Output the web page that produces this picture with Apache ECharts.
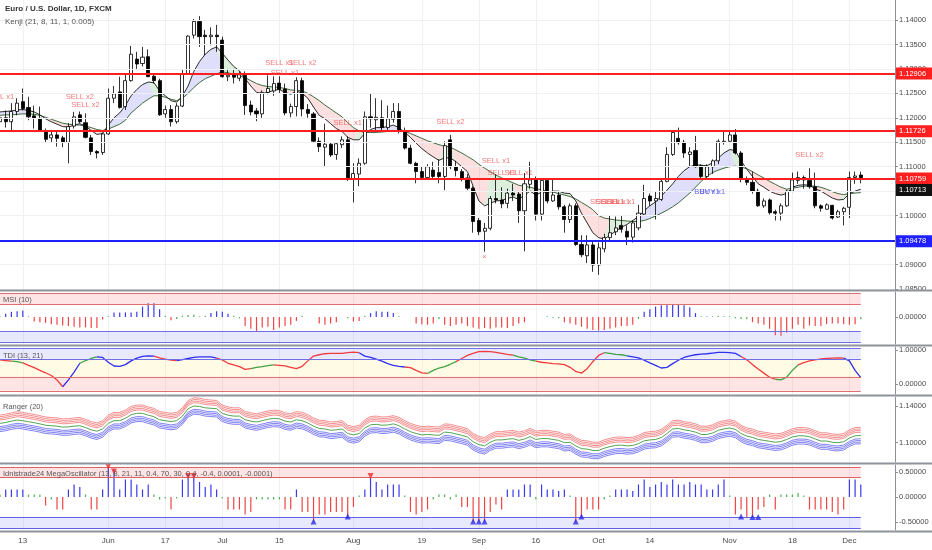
<!DOCTYPE html>
<html><head><meta charset="utf-8">
<script src="https://cdn.jsdelivr.net/npm/echarts@6/dist/echarts.min.js"></script>
<style>html,body{margin:0;padding:0;background:#fff}#c{width:932px;height:550px}</style>
</head><body><div id="c"></div>
<script>
const dates = [
'2019-05-07','2019-05-08','2019-05-09','2019-05-10','2019-05-13','2019-05-14','2019-05-15','2019-05-16','2019-05-17','2019-05-20',
'2019-05-21','2019-05-22','2019-05-23','2019-05-24','2019-05-27','2019-05-28','2019-05-29','2019-05-30','2019-05-31',
'2019-06-03','2019-06-04','2019-06-05','2019-06-06','2019-06-07','2019-06-10','2019-06-11','2019-06-12','2019-06-13','2019-06-14',
'2019-06-17','2019-06-18','2019-06-19','2019-06-20','2019-06-21','2019-06-24','2019-06-25','2019-06-26','2019-06-27','2019-06-28',
'2019-07-01','2019-07-02','2019-07-03','2019-07-04','2019-07-05','2019-07-08','2019-07-09','2019-07-10','2019-07-11','2019-07-12',
'2019-07-15','2019-07-16','2019-07-17','2019-07-18','2019-07-19','2019-07-22','2019-07-23','2019-07-24','2019-07-25','2019-07-26',
'2019-07-29','2019-07-30','2019-07-31',
'2019-08-01','2019-08-02','2019-08-05','2019-08-06','2019-08-07','2019-08-08','2019-08-09','2019-08-12','2019-08-13','2019-08-14',
'2019-08-15','2019-08-16','2019-08-19','2019-08-20','2019-08-21','2019-08-22','2019-08-23','2019-08-26','2019-08-27','2019-08-28',
'2019-08-29','2019-08-30',
'2019-09-02','2019-09-03','2019-09-04','2019-09-05','2019-09-06','2019-09-09','2019-09-10','2019-09-11','2019-09-12','2019-09-13',
'2019-09-16','2019-09-17','2019-09-18','2019-09-19','2019-09-20','2019-09-23','2019-09-24','2019-09-25','2019-09-26','2019-09-27',
'2019-09-30',
'2019-10-01','2019-10-02','2019-10-03','2019-10-04','2019-10-07','2019-10-08','2019-10-09','2019-10-10','2019-10-11','2019-10-14',
'2019-10-15','2019-10-16','2019-10-17','2019-10-18','2019-10-21','2019-10-22','2019-10-23','2019-10-24','2019-10-25','2019-10-28',
'2019-10-29','2019-10-30','2019-10-31',
'2019-11-01','2019-11-04','2019-11-05','2019-11-06','2019-11-07','2019-11-08','2019-11-11','2019-11-12','2019-11-13','2019-11-14',
'2019-11-15','2019-11-18','2019-11-19','2019-11-20','2019-11-21','2019-11-22','2019-11-25','2019-11-26','2019-11-27','2019-11-28',
'2019-11-29',
'2019-12-02','2019-12-03','2019-12-04','2019-12-05','2019-12-06','2019-12-09','2019-12-10','2019-12-11','2019-12-12'
];
const xTickDates = ['2019-05-13','2019-06-03','2019-06-17','2019-07-01','2019-07-15','2019-08-01','2019-08-19','2019-09-02','2019-09-16','2019-10-01','2019-10-14','2019-11-01','2019-11-18','2019-12-02'];
const xTickLabels = ['13','Jun','17','Jul','15','Aug','19','Sep','16','Oct','14','Nov','18','Dec'];

const opens = [
1.1192,1.1200,1.1192,1.1213,1.1233,1.1221,1.1204,1.1199,1.1174,1.1159,
1.1165,1.1159,1.1150,1.1183,1.1206,1.1190,1.1159,1.1131,1.1129,1.1167,
1.1240,1.1253,1.1223,1.1276,1.1320,1.1311,1.1325,1.1285,1.1276,1.1208,
1.1217,1.1192,1.1224,1.1290,1.1369,1.1397,1.1369,1.1366,1.1369,1.1359,
1.1284,1.1288,1.1281,1.1287,1.1226,1.1214,1.1208,1.1252,1.1255,1.1271,
1.1259,1.1210,1.1223,1.1276,1.1217,1.1208,1.1152,1.1140,1.1146,1.1125,
1.1145,1.1155,1.1075,1.1085,1.1107,1.1202,1.1196,1.1200,1.1180,1.1197,
1.1213,1.1172,1.1138,1.1107,1.1090,1.1078,1.1093,1.1088,1.1080,1.1155,
1.1100,1.1090,1.1077,1.1056,1.0990,1.0968,1.0974,1.1035,1.1032,1.1025,
1.1046,1.1044,1.1010,1.1064,1.1073,1.1003,1.1072,1.1030,1.1042,1.1018,
1.0992,1.1020,1.0941,1.0918,1.0940,1.0899,1.0932,1.0955,1.0967,1.0980,
1.0968,1.0956,1.0975,1.1003,1.1040,1.1030,1.1033,1.1070,1.1125,1.1158,
1.1150,1.1125,1.1133,1.1102,1.1080,1.1100,1.1112,1.1150,1.1152,1.1165,
1.1128,1.1075,1.1068,1.1050,1.1020,1.1032,1.1008,1.1005,1.1020,1.1050,
1.1072,1.1078,1.1072,1.1059,1.1020,1.1013,1.1021,1.0997,1.1008,1.1017,
1.1078,1.1083];
const closes = [
1.1200,1.1192,1.1213,1.1230,1.1219,1.1202,1.1199,1.1175,1.1156,1.1165,
1.1158,1.1150,1.1182,1.1202,1.1192,1.1160,1.1131,1.1128,1.1167,1.1240,
1.1249,1.1221,1.1276,1.1330,1.1310,1.1324,1.1284,1.1276,1.1206,1.1217,
1.1192,1.1224,1.1290,1.1367,1.1397,1.1366,1.1366,1.1369,1.1366,1.1284,
1.1287,1.1283,1.1288,1.1225,1.1212,1.1208,1.1252,1.1260,1.1270,1.1258,
1.1210,1.1223,1.1276,1.1218,1.1209,1.1152,1.1141,1.1146,1.1124,1.1147,
1.1155,1.1076,1.1086,1.1107,1.1202,1.1198,1.1201,1.1180,1.1198,1.1213,
1.1172,1.1138,1.1107,1.1090,1.1078,1.1100,1.1080,1.1080,1.1143,1.1100,
1.1092,1.1077,1.1056,1.0988,1.0967,1.0974,1.1035,1.1032,1.1024,1.1046,
1.1042,1.1010,1.1065,1.1073,1.1003,1.1072,1.1030,1.1042,1.1018,1.0992,
1.1020,1.0941,1.0920,1.0940,1.0899,1.0934,1.0955,1.0965,1.0975,1.0972,
1.0956,1.0985,1.1005,1.1035,1.1030,1.1035,1.1070,1.1125,1.1170,1.1149,
1.1128,1.1130,1.1100,1.1080,1.1100,1.1112,1.1152,1.1152,1.1165,1.1128,
1.1075,1.1068,1.1050,1.1020,1.1030,1.1006,1.1005,1.1020,1.1050,1.1073,
1.1078,1.1073,1.1059,1.1020,1.1015,1.1022,1.0995,1.1008,1.1015,1.1078,
1.1081,1.1076];
const lows = [
1.1185,1.1180,1.1175,1.1205,1.1215,1.1195,1.1178,1.1172,1.1150,1.1150,
1.1141,1.1140,1.1107,1.1178,1.1189,1.1158,1.1124,1.1117,1.1124,1.1165,
1.1230,1.1219,1.1216,1.1274,1.1300,1.1305,1.1284,1.1270,1.1204,1.1200,
1.1182,1.1188,1.1222,1.1288,1.1362,1.1345,1.1328,1.1348,1.1335,1.1282,
1.1275,1.1270,1.1275,1.1206,1.1205,1.1193,1.1200,1.1248,1.1245,1.1250,
1.1205,1.1201,1.1203,1.1203,1.1200,1.1149,1.1130,1.1101,1.1120,1.1114,
1.1138,1.1071,1.1027,1.1060,1.1104,1.1180,1.1175,1.1175,1.1172,1.1190,
1.1168,1.1135,1.1105,1.1066,1.1075,1.1075,1.1075,1.1066,1.1052,1.1095,
1.1080,1.1070,1.1052,1.0965,1.0960,1.0926,1.0970,1.1025,1.1015,1.1015,
1.1030,1.0985,1.0927,1.1055,1.0990,1.0990,1.1025,1.1028,1.1012,1.0965,
1.0985,1.0938,1.0915,1.0903,1.0885,1.0879,1.0925,1.0950,1.0960,1.0965,
1.0940,1.0945,1.0970,1.1000,1.1020,1.0992,1.1030,1.1068,1.1122,1.1145,
1.1118,1.1100,1.1098,1.1075,1.1075,1.1085,1.1105,1.1145,1.1150,1.1125,
1.1068,1.1062,1.1045,1.1018,1.1016,1.1002,1.0990,1.0990,1.1018,1.1048,
1.1065,1.1055,1.1055,1.1015,1.1008,1.1012,1.0992,1.0995,1.0980,1.0995,
1.1065,1.1066];
const highs = [
1.1215,1.1215,1.1230,1.1240,1.1260,1.1243,1.1225,1.1223,1.1178,1.1172,
1.1175,1.1163,1.1189,1.1212,1.1213,1.1209,1.1165,1.1134,1.1170,1.1260,
1.1265,1.1284,1.1288,1.1347,1.1335,1.1345,1.1340,1.1290,1.1280,1.1225,
1.1226,1.1230,1.1298,1.1369,1.1402,1.1408,1.1380,1.1385,1.1390,1.1366,
1.1300,1.1300,1.1295,1.1295,1.1235,1.1220,1.1256,1.1287,1.1285,1.1285,
1.1270,1.1229,1.1283,1.1282,1.1228,1.1212,1.1160,1.1188,1.1150,1.1150,
1.1162,1.1162,1.1107,1.1117,1.1213,1.1250,1.1240,1.1236,1.1225,1.1230,
1.1230,1.1180,1.1145,1.1110,1.1100,1.1105,1.1110,1.1115,1.1152,1.1165,
1.1112,1.1095,1.1085,1.1060,1.0995,1.0985,1.1040,1.1085,1.1058,1.1055,
1.1065,1.1050,1.1087,1.1110,1.1080,1.1075,1.1075,1.1075,1.1050,1.1022,
1.1025,1.1025,1.0960,1.0960,1.0950,1.0945,1.0963,1.1000,1.0998,1.1000,
1.0980,1.0990,1.1022,1.1063,1.1045,1.1050,1.1075,1.1140,1.1172,1.1180,
1.1155,1.1140,1.1163,1.1105,1.1105,1.1115,1.1156,1.1175,1.1175,1.1177,
1.1132,1.1080,1.1090,1.1055,1.1035,1.1035,1.1012,1.1025,1.1053,1.1088,
1.1090,1.1082,1.1097,1.1088,1.1023,1.1025,1.1022,1.1012,1.1018,1.1090,
1.1090,1.1090];

const kenjiFast = [
1.1212,1.1213,1.1214,1.1216,1.1217,1.1215,1.1212,1.1206,1.1198,1.1192,
1.1187,1.1182,1.1181,1.1185,1.1188,1.1183,1.1174,1.1166,1.1168,1.1185,
1.1200,1.1210,1.1225,1.1245,1.1258,1.1268,1.1273,1.1272,1.1255,1.1245,
1.1235,1.1232,1.1245,1.1265,1.1295,1.1315,1.1330,1.1340,1.1345,1.1332,
1.1318,1.1305,1.1296,1.1280,1.1265,1.1252,1.1250,1.1252,1.1256,1.1258,
1.1252,1.1248,1.1255,1.1250,1.1240,1.1222,1.1205,1.1198,1.1188,1.1178,
1.1172,1.1160,1.1155,1.1155,1.1168,1.1176,1.1180,1.1180,1.1182,1.1185,
1.1180,1.1170,1.1160,1.1148,1.1137,1.1128,1.1120,1.1113,1.1118,1.1118,
1.1110,1.1100,1.1090,1.1060,1.1030,1.1020,1.1025,1.1030,1.1031,1.1035,
1.1038,1.1033,1.1042,1.1050,1.1042,1.1048,1.1048,1.1050,1.1050,1.1046,
1.1045,1.1030,1.1005,1.0985,1.0965,1.0955,1.0952,1.0960,1.0968,1.0976,
1.0982,1.0990,1.0998,1.1010,1.1020,1.1028,1.1040,1.1052,1.1065,1.1080,
1.1092,1.1100,1.1104,1.1103,1.1102,1.1108,1.1118,1.1128,1.1135,1.1133,
1.1112,1.1095,1.1080,1.1065,1.1058,1.1050,1.1045,1.1042,1.1045,1.1058,
1.1062,1.1063,1.1062,1.1055,1.1050,1.1043,1.1036,1.1032,1.1033,1.1045,
1.1050,1.1054];
const kenjiSlow = [
1.1205,1.1206,1.1206,1.1207,1.1208,1.1208,1.1207,1.1205,1.1201,1.1197,
1.1193,1.1189,1.1187,1.1186,1.1185,1.1183,1.1180,1.1176,1.1174,1.1177,
1.1182,1.1187,1.1195,1.1210,1.1220,1.1230,1.1238,1.1245,1.1245,1.1242,
1.1238,1.1235,1.1240,1.1250,1.1262,1.1272,1.1280,1.1285,1.1290,1.1294,
1.1292,1.1289,1.1286,1.1282,1.1276,1.1270,1.1266,1.1264,1.1263,1.1262,
1.1260,1.1257,1.1256,1.1255,1.1250,1.1243,1.1235,1.1226,1.1218,1.1210,
1.1202,1.1190,1.1180,1.1173,1.1170,1.1170,1.1170,1.1171,1.1172,1.1174,
1.1174,1.1172,1.1168,1.1163,1.1158,1.1153,1.1149,1.1145,1.1142,1.1140,
1.1134,1.1128,1.1121,1.1114,1.1105,1.1097,1.1090,1.1083,1.1077,1.1072,
1.1067,1.1062,1.1060,1.1058,1.1055,1.1053,1.1050,1.1048,1.1045,1.1042,
1.1039,1.1034,1.1027,1.1020,1.1012,1.1000,1.0995,1.0993,1.0991,1.0990,
1.0989,1.0988,1.0988,1.0990,1.0994,1.0999,1.1005,1.1011,1.1018,1.1026,
1.1036,1.1046,1.1058,1.1070,1.1080,1.1088,1.1093,1.1097,1.1100,1.1101,
1.1099,1.1096,1.1090,1.1083,1.1077,1.1070,1.1064,1.1058,1.1054,1.1056,
1.1058,1.1060,1.1061,1.1060,1.1058,1.1054,1.1049,1.1045,1.1043,1.1045,
1.1046,1.1047];
const redLevels = [1.12906, 1.11726, 1.10759];
const blueLevels = [1.09478];
const kenjiLast = 1.10713;
const priceTicks = [1.085,1.09,1.095,1.10,1.105,1.11,1.115,1.12,1.125,1.13,1.135,1.14];
const signals = [
[0,1.12425,'SELL x1','s'],[14,1.12425,'SELL x2','s'],[15,1.12262,'SELL x2','s'],
[49,1.13127,'SELL x1','s'],[53,1.13127,'SELL x2','s'],[50,1.12922,'SELL x1','s'],
[61,1.11894,'SELL x1','s'],[79,1.11920,'SELL x2','s'],[87,1.11123,'SELL x1','s'],
[88,1.10865,'SELL x1','s'],[91,1.10865,'SELL x1','s'],
[106,1.10284,'SELL x1','s'],[107,1.10284,'SELL x1','s'],[108,1.10284,'SELL x1','s'],[109,1.10284,'SELL x1','s'],
[124,1.10489,'BUY x1','b'],[125,1.10489,'BUY x1','b'],[142,1.11240,'SELL x2','s'],[85,1.09153,'×','s']];

const msi = [
0.05,0.25,0.4,0.45,0.5,0.05,-0.35,-0.4,-0.45,-0.55,
-0.6,-0.65,-0.7,-0.75,-0.8,-0.8,-0.85,-0.85,-0.2,0.05,
0.35,0.35,0.35,0.35,0.4,0.8,1.05,1.05,0.6,0.1,
-0.25,-0.15,0.1,0.15,0.18,0.05,0.1,0.3,0.45,0.4,
0.25,0.1,-0.1,-0.7,-0.9,-1.1,-0.8,-0.75,-1.0,-0.8,
-0.7,-0.6,-0.3,0.1,0,0,-0.5,-0.6,-0.5,-0.4,
0,-0.1,-0.35,-0.3,0.1,0.3,0.45,0.4,0.4,0.3,
0.05,0,0,-0.5,-0.55,-0.6,-0.5,-0.18,-0.6,-0.7,
-0.6,-0.5,-0.7,-0.8,-0.9,-0.85,-0.9,-0.8,-0.8,-0.85,
-0.7,-0.5,-0.4,0,0,0,0.05,-0.05,-0.1,-0.4,
-0.5,-0.6,-0.75,-0.9,-1.0,-1.05,-1.0,-0.9,-0.8,-0.7,
-0.7,-0.6,-0.15,0.4,0.6,0.8,0.9,0.95,0.95,0.95,
0.9,0.75,0.3,0.05,0.05,0.05,0.1,0.05,0.05,-0.1,
-0.15,-0.18,-0.4,-0.5,-0.6,-0.9,-1.4,-1.45,-1.2,-0.9,
-0.6,-0.9,-0.65,-0.7,-0.7,-0.55,-0.5,-0.5,-0.55,-0.6,
-0.55,-0.18];
const msiUpperBand = [1.0, 1.846];
const msiLowerBand = [-1.077, -1.923];

const tdi = [
0.71,0.69,0.67,0.66,0.62,0.55,0.48,0.40,0.33,0.25,
0.12,-0.08,0.12,0.35,0.61,0.69,0.75,0.80,0.78,0.64,
0.53,0.52,0.57,0.68,0.76,0.81,0.83,0.82,0.77,0.73,
0.70,0.69,0.72,0.75,0.78,0.80,0.80,0.80,0.76,0.71,
0.61,0.56,0.51,0.43,0.45,0.49,0.51,0.54,0.56,0.55,
0.53,0.49,0.45,0.52,0.68,0.82,0.86,0.89,0.90,0.90,
0.90,0.92,0.94,0.92,0.82,0.78,0.73,0.67,0.60,0.55,
0.52,0.50,0.48,0.40,0.33,0.31,0.40,0.47,0.51,0.58,
0.66,0.75,0.84,0.90,0.95,0.96,0.95,0.93,0.90,0.87,
0.85,0.80,0.76,0.71,0.67,0.64,0.62,0.60,0.59,0.57,
0.49,0.37,0.32,0.45,0.66,0.84,0.92,0.90,0.87,0.86,
0.83,0.80,0.77,0.70,0.62,0.55,0.47,0.49,0.60,0.70,
0.78,0.83,0.86,0.88,0.89,0.91,0.93,0.93,0.92,0.90,
0.81,0.71,0.57,0.44,0.32,0.20,0.14,0.12,0.20,0.40,
0.56,0.63,0.68,0.71,0.74,0.75,0.76,0.77,0.76,0.68,
0.40,0.19];
const tdiSegments = [[0,2,'r'],[2,4,'g'],[4,11,'r'],[11,14,'b'],[14,17,'g'],[17,27,'b'],[27,31,'r'],[31,38,'b'],
[38,44,'r'],[44,48,'g'],[48,63,'r'],[63,71,'b'],[71,75,'r'],[75,80,'g'],[80,90,'r'],[90,94,'g'],[94,106,'r'],
[106,110,'g'],[110,130,'b'],[130,136,'r'],[136,140,'g'],[140,148,'r'],[148,151,'b']];
const tdiHighBand = [0.74, 1.06];
const tdiMidBand = [0.21, 0.74];
const tdiLowBand = [-0.2, 0.21];

const rangerMid = [
1.1211,1.1220,1.1235,1.1247,1.1240,1.1228,1.1218,1.1205,1.1190,1.1185,
1.1180,1.1170,1.1172,1.1180,1.1185,1.1165,1.1140,1.1125,1.1150,1.1211,
1.1240,1.1240,1.1266,1.1305,1.1320,1.1320,1.1300,1.1284,1.1250,1.1240,
1.1230,1.1240,1.1290,1.1370,1.1400,1.1395,1.1380,1.1375,1.1370,1.1320,
1.1300,1.1290,1.1290,1.1250,1.1235,1.1225,1.1240,1.1255,1.1265,1.1260,
1.1235,1.1225,1.1250,1.1240,1.1215,1.1180,1.1155,1.1150,1.1135,1.1140,
1.1150,1.1100,1.1085,1.1100,1.1160,1.1195,1.1200,1.1190,1.1193,1.1205,
1.1185,1.1150,1.1120,1.1100,1.1085,1.1090,1.1085,1.1080,1.1115,1.1110,
1.1095,1.1080,1.1062,1.1010,1.0980,1.0965,1.1005,1.1030,1.1030,1.1038,
1.1044,1.1025,1.1040,1.1066,1.1035,1.1045,1.1045,1.1035,1.1025,1.1000,
1.1005,1.0965,1.0935,1.0930,1.0915,1.0915,1.0940,1.0957,1.0970,1.0973,
1.0965,1.0970,1.0990,1.1020,1.1030,1.1035,1.1055,1.1100,1.1150,1.1155,
1.1140,1.1130,1.1115,1.1090,1.1090,1.1105,1.1135,1.1150,1.1160,1.1145,
1.1100,1.1072,1.1058,1.1035,1.1025,1.1015,1.1005,1.1012,1.1035,1.1062,
1.1075,1.1075,1.1065,1.1040,1.1018,1.1018,1.1005,1.1000,1.1010,1.1050,
1.1075,1.1078];
const rangerUpperOffsets = [0.0036, 0.0054, 0.0072, 0.0090];
const rangerLowerOffsets = [0.0036, 0.0054, 0.0072, 0.0090];

const mega = [
0.05,0.15,0.15,0.15,0.15,0.05,0.05,0.05,-0.17,-0.05,
-0.25,-0.25,0.15,0.25,0.2,0.05,-0.25,-0.25,0.15,0.58,
0.55,0.15,0.35,0.35,0.25,0.15,0.25,0.05,-0.05,-0.03,
-0.25,-0.03,0.35,0.45,0.45,0.3,0.2,0.25,0.15,-0.03,
-0.25,-0.25,-0.25,-0.35,-0.3,-0.05,-0.05,-0.05,-0.05,-0.05,
-0.25,-0.25,0.15,-0.3,-0.3,-0.5,-0.35,-0.35,-0.3,-0.3,
-0.3,-0.4,-0.2,0.03,0.15,0.4,0.3,0.15,0.25,0.25,
0.25,0.03,-0.3,-0.35,-0.3,-0.25,-0.05,0.05,0.05,-0.05,
0.05,-0.2,-0.2,-0.5,-0.5,-0.5,-0.3,-0.15,-0.25,0.15,
0.15,0.15,0.25,0.25,-0.05,0.25,0.15,0.15,0.12,0.15,
0.03,-0.5,-0.4,-0.25,-0.25,-0.25,-0.05,0.03,0.15,0.15,
0.15,0.12,0.25,0.35,0.2,0.25,0.3,0.25,0.35,0.25,
0.25,0.3,0.25,0.25,0.15,0.15,0.25,0.35,0.03,-0.35,
-0.25,-0.4,-0.4,-0.25,-0.2,0.05,-0.25,0.05,0.05,0.05,
0.08,0.03,-0.25,-0.25,-0.25,-0.25,-0.3,-0.35,-0.25,0.35,
0.35,0.25];
const megaSellMarks = [[19,0.61],[20,0.51],[33,0.42],[34,0.42],[65,0.42]];
const megaBuyMarks = [[55,-0.49],[61,-0.39],[83,-0.49],[84,-0.49],[85,-0.49],[101,-0.49],[102,-0.39],[130,-0.39],[132,-0.4],[133,-0.4]];
const megaUpperBand = [0.4, 0.6];
const megaLowerBand = [-0.4, -0.62];

// ---------- build ----------
const FONT = '"Liberation Sans", Arial, sans-serif';
const TXT = '#4a4a4a';
const AX = '#8c9099';
const GRIDC = '#eef0f4';
const lastIdx = closes.length - 1;
const tickSet = new Set(xTickDates);
const labelOf = {}; xTickDates.forEach((d,i)=>{labelOf[d]=xTickLabels[i];});
const gridBoxes = [[0,289],[292,52],[347,47],[397,65],[465,65]];
const grids = gridBoxes.map(([t,h])=>({left:0, right:37, top:t, height:h, containLabel:false}));

const xAxes = gridBoxes.map((g,gi)=>({
  type:'category', gridIndex:gi, data:dates, boundaryGap:false,
  axisLine:{show:false}, axisTick:{show:false},
  axisLabel:{show:gi===4, interval:(i,v)=>tickSet.has(v), formatter:v=>labelOf[v]||'', color:TXT, fontSize:8, fontFamily:FONT, margin:7},
  splitLine:{show:true, interval:(i,v)=>tickSet.has(v), lineStyle:{color:GRIDC, width:1}}
}));
function yAx(gi, min, max, vals){
  return {type:'value', gridIndex:gi, position:'right', min, max,
    axisLine:{show:true, lineStyle:{color:AX, width:1}},
    axisTick:{show:true, length:3, customValues:vals, lineStyle:{color:AX}},
    axisLabel:{customValues:vals, formatter:v=>v.toFixed(5), color:TXT, fontSize:7.5, fontFamily:FONT, margin:4},
    splitLine:{show:false}};
}
const yAxes = [
  yAx(0, 1.08499, 1.14409, priceTicks),
  yAx(1, -2.077, 1.923, [0]),
  yAx(2, -0.294, 1.088, [0,1]),
  yAx(3, 1.07893, 1.14981, [1.10,1.14]),
  yAx(4, -0.66, 0.64, [-0.5,0,0.5])
];

const ohlc = closes.map((c,i)=>[opens[i], c, lows[i], highs[i]]);
const kLow = kenjiFast.map((f,i)=>Math.min(f, kenjiSlow[i]));
const kState = kenjiFast.map((f,i)=>{
  const up = i===0 ? true : f >= kenjiFast[i-1];
  if (f >= kenjiSlow[i]) return up ? 'b' : 'g';
  return up ? 'g' : 'p';
});
const kDiff = c => kenjiFast.map((f,i)=> kState[i]===c ? +Math.abs(f-kenjiSlow[i]).toFixed(5) : 0);
const fillSeries = (c, col) => ({type:'line', xAxisIndex:0, yAxisIndex:0, stack:'kenji', data:kDiff(c), symbol:'none', silent:true,
  lineStyle:{width:0, opacity:0}, areaStyle:{color:col, opacity:1}, z:1});

function bandArea(lo, hi, col){ return [{coord:[0, lo], itemStyle:{color:col}}, {coord:[lastIdx, hi]}]; }
function bandLine(v, col){ return [{coord:[0, v], lineStyle:{color:col}}, {coord:[lastIdx, v]}]; }
const mlBase = {silent:true, symbol:['none','none'], precision:6, label:{show:false}, lineStyle:{type:'solid', width:1}, animation:false};
const maBase = {silent:true, precision:6, animation:false, label:{show:false}};
// invisible carrier series for the indicator bands (line series on each panel)
function bandCarrier(xi, areas, lines){
  return {type:'line', xAxisIndex:xi, yAxisIndex:xi, data:closes.map(()=>null), symbol:'none', silent:true, z:1,
    lineStyle:{opacity:0},
    markArea:Object.assign({}, maBase, {data:areas}),
    markLine:Object.assign({}, mlBase, {data:lines})};
}

const series = [];
series.push({type:'line', xAxisIndex:0, yAxisIndex:0, stack:'kenji', data:kLow, symbol:'none', silent:true,
  lineStyle:{width:0, opacity:0}, z:1,
  markLine:Object.assign({}, mlBase, {lineStyle:{type:'solid', width:1, color:GRIDC}, data: priceTicks.map(v=>({yAxis:v}))})});
series.push(fillSeries('b','rgba(120,120,240,0.24)'));
series.push(fillSeries('g','rgba(110,190,110,0.24)'));
series.push(fillSeries('p','rgba(245,120,120,0.24)'));
series.push({type:'line', xAxisIndex:0, yAxisIndex:0, data:kenjiSlow, symbol:'none', silent:true,
  lineStyle:{color:'#3d6b3d', width:1}, z:3,
  markLine:Object.assign({}, mlBase, {lineStyle:{type:'solid', width:2},
    data: redLevels.map(v=>({yAxis:v, lineStyle:{color:'#ff1f1f'}})).concat(blueLevels.map(v=>({yAxis:v, lineStyle:{color:'#1f1fff'}})))})});
series.push({type:'line', xAxisIndex:0, yAxisIndex:0, data:kenjiFast, symbol:'none', silent:true,
  lineStyle:{color:'#2a2a2a', width:1}, z:3});
series.push({type:'candlestick', xAxisIndex:0, yAxisIndex:0, data:ohlc, barWidth:3.6, z:4,
  itemStyle:{color:'#ffffff', color0:'#000000', borderColor:'#000000', borderColor0:'#000000', borderWidth:0.8}});
series.push({type:'scatter', xAxisIndex:0, yAxisIndex:0, symbolSize:1, z:6, silent:true,
  itemStyle:{color:'rgba(0,0,0,0)'},
  label:{show:true, position:'inside', fontSize:7.5, fontFamily:FONT},
  data: signals.map(s=>({value:[s[0], s[1]], label:{formatter:s[2], color: s[3]==='b' ? '#4646e6' : '#f05656'}}))});

// MSI
series.push(bandCarrier(1,
  [bandArea(msiUpperBand[0], msiUpperBand[1], 'rgba(250,90,90,0.16)'), bandArea(msiLowerBand[0], msiLowerBand[1], 'rgba(100,100,250,0.14)')],
  [bandLine(msiUpperBand[0],'#e07070'), bandLine(msiUpperBand[1],'#e07070'), bandLine(msiLowerBand[0],'#6f6fe6'), bandLine(msiLowerBand[1],'#6f6fe6')]));
series.push({type:'bar', xAxisIndex:1, yAxisIndex:1, barWidth:1.2, silent:true, z:3,
  data: msi.map(v=>({value:v, itemStyle:{color: Math.abs(v)<0.2 ? '#4caf50' : (v>0 ? '#3a3aee' : '#f04444')}}))});

// TDI
series.push(bandCarrier(2,
  [bandArea(tdiHighBand[0], tdiHighBand[1], 'rgba(100,100,250,0.14)'), bandArea(tdiMidBand[0], tdiMidBand[1], 'rgba(255,240,150,0.25)'), bandArea(tdiLowBand[0], tdiLowBand[1], 'rgba(250,90,90,0.16)')],
  [bandLine(tdiHighBand[1],'#6f6fe6'), bandLine(tdiHighBand[0],'#6f6fe6'), bandLine(tdiLowBand[1],'#e07070'), bandLine(tdiLowBand[0],'#e07070')]));
const tdiCol = {r:'#f03c3c', g:'#3fa33f', b:'#2f2ff0'};
['r','g','b'].forEach(c=>{
  const d = tdi.map((v,i)=> tdiSegments.some(s=>s[2]===c && i>=s[0] && i<=s[1]) ? v : null);
  series.push({type:'line', xAxisIndex:2, yAxisIndex:2, data:d, symbol:'none', silent:true, connectNulls:false,
    lineStyle:{color:tdiCol[c], width:1.3}, z:3});
});

// Ranger
rangerUpperOffsets.forEach(o=>{
  series.push({type:'line', xAxisIndex:3, yAxisIndex:3, data:rangerMid.map(v=>+(v+o).toFixed(5)), symbol:'none', silent:true,
    lineStyle:{color:'#f06a6a', width:0.9, opacity:0.85}, z:2});
});
rangerLowerOffsets.forEach(o=>{
  series.push({type:'line', xAxisIndex:3, yAxisIndex:3, data:rangerMid.map(v=>+(v-o).toFixed(5)), symbol:'none', silent:true,
    lineStyle:{color:'#5a5af0', width:0.9, opacity:0.85}, z:2});
});
series.push({type:'line', xAxisIndex:3, yAxisIndex:3, data:rangerMid, symbol:'none', silent:true,
  lineStyle:{color:'#3f9a3f', width:0.9}, z:3});

// Mega oscillator
series.push(bandCarrier(4,
  [bandArea(megaUpperBand[0], megaUpperBand[1], 'rgba(250,90,90,0.16)'), bandArea(megaLowerBand[0], megaLowerBand[1], 'rgba(100,100,250,0.14)')],
  [bandLine(megaUpperBand[0],'#e06060'), bandLine(megaUpperBand[1],'#e06060'), bandLine(megaLowerBand[0],'#6060e6'), bandLine(megaLowerBand[1],'#6060e6')]));
series.push({type:'bar', xAxisIndex:4, yAxisIndex:4, barWidth:1.2, silent:true, z:3,
  data: mega.map(v=>({value:v, itemStyle:{color: Math.abs(v)<0.1 ? '#4caf50' : (v>0 ? '#3a3aee' : '#f04444')}}))});
series.push({type:'scatter', xAxisIndex:4, yAxisIndex:4, symbol:'triangle', symbolRotate:180, symbolSize:6, silent:true, z:5,
  itemStyle:{color:'#f02a2a'}, data:megaSellMarks});
series.push({type:'scatter', xAxisIndex:4, yAxisIndex:4, symbol:'triangle', symbolSize:6, silent:true, z:5,
  itemStyle:{color:'#2a2af0'}, data:megaBuyMarks});

// static texts & separators
const txt = (t, x, y, size, col, w) => ({type:'text', left:x, top:y, z:100, silent:true,
  style:{text:t, fill:col, font:(w||'normal')+' '+size+'px '+FONT}});
const sep = y => ({type:'line', z:90, silent:true, shape:{x1:0, y1:y, x2:932, y2:y}, style:{stroke:'#8f939b', lineWidth:2}});
const graphics = [
  txt('Euro / U.S. Dollar, 1D, FXCM', 5, 5, 8, '#333', '600'),
  txt('Kenji (21, 8, 11, 1, 0.005)', 5, 18, 8, '#555'),
  txt('MSI (10)', 3, 296, 7.5, '#555'),
  txt('TDI (13, 21)', 3, 352, 7.5, '#555'),
  txt('Ranger (20)', 3, 403, 7.5, '#555'),
  txt('Idnistrade24 MegaOscillator (13, 8, 21, 11, 0.4, 70, 30, 0.4, -0.4, 0.0001, -0.0001)', 3, 470, 7.5, '#555'),
  sep(290.5), sep(345.5), sep(395.5), sep(463.5), sep(531.5)
];

const chart = echarts.init(document.getElementById('c'));
chart.setOption({
  animation:false, backgroundColor:'#ffffff',
  grid:grids, xAxis:xAxes, yAxis:yAxes, series:series, graphic:graphics
});

// price boxes on the right axis
const boxes = redLevels.map(v=>({v, bg:'#ff1f1f'})).concat([{v:kenjiLast, bg:'#111111'}], blueLevels.map(v=>({v, bg:'#1f1fff'})));
boxes.forEach(b=>{ b.y = chart.convertToPixel({yAxisIndex:0}, b.v); });
boxes.sort((a,b)=>a.y-b.y);
let prev = -100;
boxes.forEach(b=>{ if (b.y < prev + 11.5) b.y = prev + 11.5; prev = b.y; });
const boxG = [];
boxes.forEach(b=>{
  boxG.push({type:'rect', z:110, silent:true, shape:{x:896, y:b.y-6, width:36, height:12}, style:{fill:b.bg}});
  boxG.push({type:'text', z:111, silent:true, x:899, y:b.y, style:{text:b.v.toFixed(5), fill:'#ffffff', font:'7.5px '+FONT, verticalAlign:'middle'}});
});
chart.setOption({graphic: graphics.concat(boxG)});
</script></body></html>
